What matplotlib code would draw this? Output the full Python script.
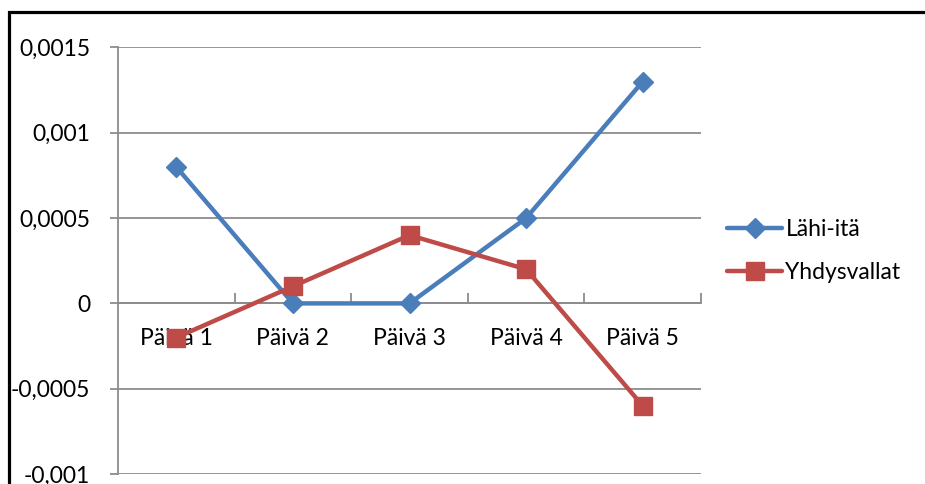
import matplotlib.pyplot as plt
from matplotlib.patches import Rectangle
from matplotlib.ticker import FixedLocator, FuncFormatter, MultipleLocator

days = ["Päivä 1", "Päivä 2", "Päivä 3", "Päivä 4", "Päivä 5"]
lahi_ita = [0.0008, 0.0, 0.0, 0.0005, 0.0013]
yhdysvallat = [-0.0002, 0.0001, 0.0004, 0.0002, -0.0006]

BLUE = "#4A7EBB"
RED = "#BE4B48"
GRID = "#8C8C8C"

plt.rcParams["font.family"] = ["Lato", "DejaVu Sans"]

W, H = 925, 484
fig = plt.figure(figsize=(W / 100, H / 100), dpi=100)
ax = fig.add_axes([118 / W, 1 - 474 / H, (701 - 118) / W, (474 - 47.5) / H])

x = list(range(len(days)))
ax.plot(x, lahi_ita, color=BLUE, lw=3.2, marker="D", ms=10, label="Lähi-itä",
        solid_capstyle="round", zorder=3)
ax.plot(x, yhdysvallat, color=RED, lw=3.2, marker="s", ms=13.5, label="Yhdysvallat",
        solid_capstyle="round", zorder=3)

ax.set_xlim(-0.5, len(days) - 0.5)
ax.set_ylim(-0.001, 0.0015)

# y axis: comma decimals, gridlines every 0.0005
ax.yaxis.set_major_locator(MultipleLocator(0.0005))
ax.yaxis.set_major_formatter(FuncFormatter(lambda v, p: f"{v:g}".replace(".", ",")))
ax.grid(axis="y", color=GRID, lw=1.3)
ax.set_axisbelow(True)
ax.tick_params(axis="y", length=6, width=1.3, color=GRID, pad=14, labelsize=16.5)

# x axis sits on zero, ticks between categories pointing up
ax.spines["bottom"].set_position(("data", 0))
ax.xaxis.set_major_locator(FixedLocator(x))
ax.set_xticklabels(days)
ax.xaxis.set_minor_locator(FixedLocator([i + 0.5 for i in range(len(days))]))
ax.tick_params(axis="x", which="major", length=0, pad=18, labelsize=16.5)
ax.tick_params(axis="x", which="minor", direction="in", length=7, width=1.3, color=GRID)

for side in ("top", "right"):
    ax.spines[side].set_visible(False)
for side in ("left", "bottom"):
    ax.spines[side].set_color(GRID)
    ax.spines[side].set_linewidth(1.3)

fig.legend(loc="center left", bbox_to_anchor=(727 / W, 1 - 251 / H), frameon=False,
           fontsize=16.5, handlelength=2.4, handletextpad=0.15, labelspacing=0.95,
           borderpad=0, borderaxespad=0)

# outer chart frame (runs off the right and bottom edges)
fig.patches.append(Rectangle((8.7 / W, -0.1), 1.2, 1 - 12 / H + 0.1,
                             transform=fig.transFigure, fill=False,
                             edgecolor="black", lw=2.3, zorder=10))

fig.savefig("out.png", dpi=100)
